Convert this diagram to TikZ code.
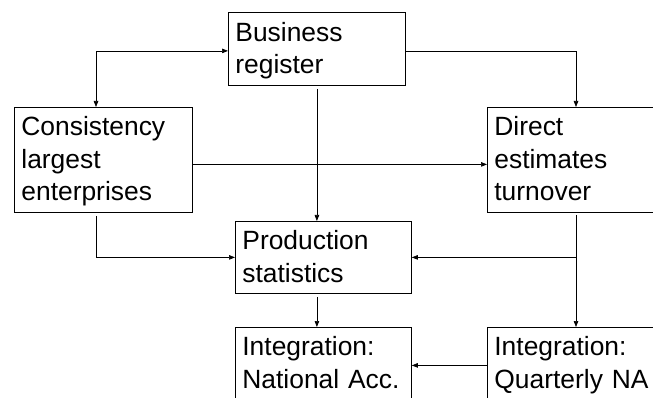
\documentclass[tikz,border=0pt]{standalone}
\usepackage{fontspec}
\setmainfont{Liberation Sans}
\usetikzlibrary{arrows.meta}
% fixed-size strut so every line sits on the same grid
\newcommand{\linestrut}{\rule[-7pt]{0pt}{31pt}}
\tikzset{
  box/.style={draw=black, line width=0.8pt, rectangle, anchor=north west,
    inner xsep=7pt, inner ysep=0pt, align=left,
    font=\fontsize{26.4}{32.5}\selectfont},
  link/.style={draw=black, line width=0.7pt},
  tip/.style={-{Triangle[length=6pt,width=4.5pt]}},
  tips/.style={{Triangle[length=6pt,width=4.5pt]}-{Triangle[length=6pt,width=4.5pt]}}
}
\begin{document}
\begin{tikzpicture}[x=1pt,y=-1pt]
  \clip (0,0) rectangle (653,398);
  \fill[white] (0,0) rectangle (653,398);

  % boxes
  \node[box, text width=163pt, minimum height=73pt] (br) at (228,12)
    {Business\linestrut\\register\linestrut};
  \node[box, text width=164pt, minimum height=105pt] (cons) at (14,107)
    {Consistency\linestrut\\largest\linestrut\\enterprises\linestrut};
  \node[box, text width=170pt, minimum height=105pt] (dir) at (487,107)
    {Direct\linestrut\\estimates\linestrut\\turnover\linestrut};
  \node[box, text width=162pt, minimum height=72pt] (prod) at (235,221)
    {Production\linestrut\\statistics\linestrut};
  \node[box, text width=162pt, minimum height=72pt] (nat) at (235,327)
    {Integration:\linestrut\\National Acc.\linestrut};
  \node[box, text width=170pt, minimum height=72pt] (qna) at (487,327)
    {Integration:\linestrut\\Quarterly NA\linestrut};

  % connector lanes
  \coordinate (cx) at ([xshift=82pt]cons.north west);
  \coordinate (cxs) at ([xshift=82pt]cons.south west);
  \coordinate (dx) at ([xshift=89pt]dir.north west);
  \coordinate (dxs) at ([xshift=89pt]dir.south west);
  \coordinate (bl) at ([yshift=-2pt]br.west);
  \coordinate (brr) at ([yshift=-2pt]br.east);
  \coordinate (ce) at ([yshift=-4.5pt]cons.east);
  \coordinate (qw) at ([yshift=-2pt]qna.west);

  % connectors
  \draw[link, tips] (bl) -| (cx);
  \draw[link, tip] (brr) -| (dx);
  \draw[link, tip, shorten <=3pt] (br.south) -- (br.south |- prod.north);
  \draw[link, tip] (ce) -- (ce -| dir.west);
  \draw[link, tip, shorten <=3pt] (cxs) |- (prod.west);
  \draw[link, tip, shorten <=2pt] (dxs) -- (dxs |- qna.north);
  \draw[link, tip] (dxs |- prod.east) -- (prod.east);
  \draw[link, tip, shorten <=3pt] (br.south |- prod.south) -- (br.south |- nat.north);
  \draw[link, tip] (qw) -- (qw -| nat.east);
\end{tikzpicture}
\end{document}
